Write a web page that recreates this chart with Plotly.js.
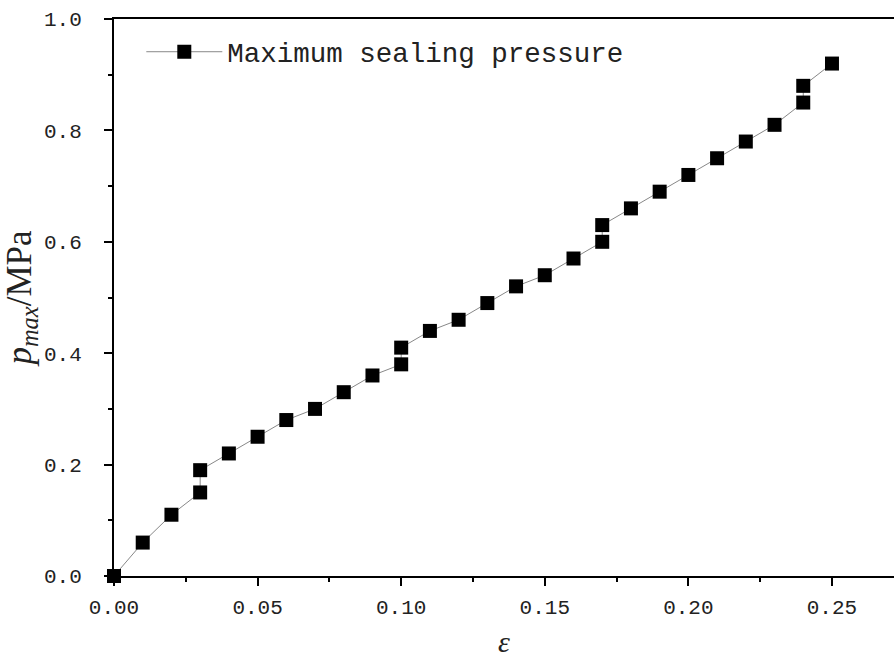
<!DOCTYPE html>
<html>
<head>
<meta charset="utf-8">
<script src="https://cdn.plot.ly/plotly-3.0.1.min.js"></script>
<style>html,body{margin:0;padding:0;background:#fff;}#chart{width:894px;height:658px;}</style>
</head>
<body>
<div id="chart"></div>
<script>
const strain = [0, 0.01, 0.02, 0.03, 0.03, 0.04, 0.05, 0.06, 0.07, 0.08, 0.09, 0.10, 0.10, 0.11, 0.12, 0.13, 0.14, 0.15, 0.16, 0.17, 0.17, 0.18, 0.19, 0.20, 0.21, 0.22, 0.23, 0.24, 0.24, 0.25];
const pmax = [0, 0.06, 0.11, 0.15, 0.19, 0.22, 0.25, 0.28, 0.30, 0.33, 0.36, 0.38, 0.41, 0.44, 0.46, 0.49, 0.52, 0.54, 0.57, 0.60, 0.63, 0.66, 0.69, 0.72, 0.75, 0.78, 0.81, 0.85, 0.88, 0.92];
const seriesName = 'Maximum sealing pressure';
const xTickVals = [0, 0.05, 0.10, 0.15, 0.20, 0.25];
const xTickText = ['0.00', '0.05', '0.10', '0.15', '0.20', '0.25'];
const yTickVals = [0, 0.2, 0.4, 0.6, 0.8, 1.0];
const yTickText = ['0.0', '0.2', '0.4', '0.6', '0.8', '1.0'];

const tickFont = {family: 'Liberation Mono, monospace', size: 21, color: '#222'};
const trace = {
  x: strain, y: pmax, name: seriesName, type: 'scatter', mode: 'lines+markers',
  line: {color: '#888', width: 1},
  marker: {symbol: 'square', size: 14, color: '#000'},
  cliponaxis: false
};
const layout = {
  width: 894, height: 658,
  margin: {l: 114, r: 0, t: 19, b: 82},
  paper_bgcolor: '#fff', plot_bgcolor: '#fff',
  showlegend: true,
  legend: {x: 0.035, y: 0.985, xanchor: 'left', yanchor: 'top', bgcolor: 'rgba(0,0,0,0)',
           font: {family: 'Liberation Mono, monospace', size: 27.5, color: '#222'}, itemwidth: 76},
  xaxis: {
    range: [0, 0.2716], showgrid: false, zeroline: false,
    showline: true, linecolor: '#000', linewidth: 2, mirror: true,
    ticks: 'outside', ticklen: 8, tickwidth: 2, tickcolor: '#000',
    tickvals: xTickVals, ticktext: xTickText, tickfont: tickFont, ticklabelstandoff: 3,
    minor: {ticks: 'outside', ticklen: 4, tickwidth: 2, tickcolor: '#000', dtick: 0.025, tick0: 0, showgrid: false},
    title: {text: '<i>ε</i>', font: {family: 'Liberation Serif, serif', size: 30, color: '#222'}, standoff: 18}
  },
  yaxis: {
    range: [0, 1.0], showgrid: false, zeroline: false,
    showline: true, linecolor: '#000', linewidth: 2, mirror: false,
    ticks: 'outside', ticklen: 8, tickwidth: 2, tickcolor: '#000',
    tickvals: yTickVals, ticktext: yTickText, tickfont: tickFont, ticklabelstandoff: 18,
    minor: {ticks: 'outside', ticklen: 4, tickwidth: 2, tickcolor: '#000', dtick: 0.1, tick0: 0, showgrid: false},
    title: {text: '<i>p</i><sub><i>max</i></sub>/MPa', font: {family: 'Liberation Serif, serif', size: 35, color: '#222'}, standoff: 2}
  }
};
Plotly.newPlot('chart', [trace], layout, {displayModeBar: false, staticPlot: true});
</script>
</body>
</html>
